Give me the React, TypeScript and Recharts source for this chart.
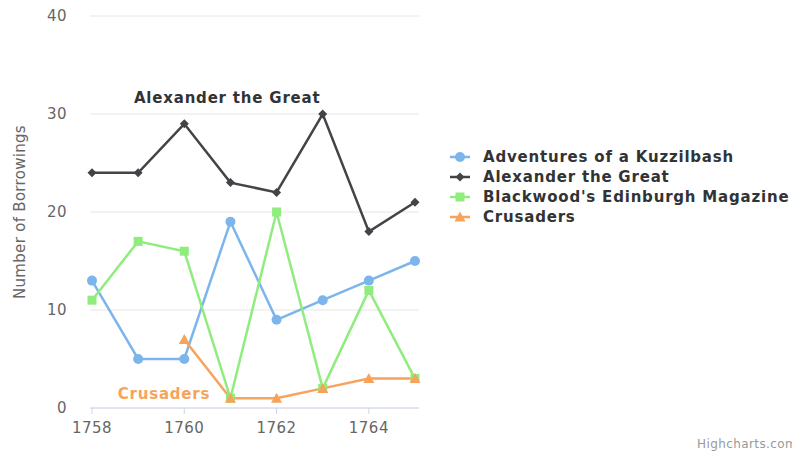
import React from "react";
import { LineChart, Line, XAxis, YAxis, CartesianGrid, ReferenceDot } from "recharts";

const years = [1758, 1759, 1760, 1761, 1762, 1763, 1764, 1765];
const kuzzilbash = [13, 5, 5, 19, 9, 11, 13, 15];
const alexander = [24, 24, 29, 23, 22, 30, 18, 21];
const blackwood = [11, 17, 16, 1, 20, 2, 12, 3];
const crusaders: (number | null)[] = [null, null, 7, 1, 1, 2, 3, 3];
const yTicks = [0, 10, 20, 30, 40];
const xTicks = [1758, 1760, 1762, 1764];

const seriesNames = [
  "Adventures of a Kuzzilbash",
  "Alexander the Great",
  "Blackwood's Edinburgh Magazine",
  "Crusaders",
];
const seriesKeys = ["kuzzilbash", "alexander", "blackwood", "crusaders"];
const seriesColors = ["#7cb5ec", "#434348", "#90ed7d", "#f7a35c"];
const seriesShapes = ["circle", "diamond", "square", "triangle"];

const data = years.map((year, i) => ({
  year,
  kuzzilbash: kuzzilbash[i],
  alexander: alexander[i],
  blackwood: blackwood[i],
  crusaders: crusaders[i],
}));

const FONT = "'DejaVu Sans', Verdana, sans-serif";

function Marker({ shape, cx, cy, color, r = 4.5 }: any) {
  if (shape === "circle") return <circle cx={cx} cy={cy} r={r + 0.5} fill={color} />;
  if (shape === "square") return <rect x={cx - r} y={cy - r} width={2 * r} height={2 * r} fill={color} />;
  if (shape === "diamond")
    return <path d={`M${cx},${cy - r} L${cx + r},${cy} L${cx},${cy + r} L${cx - r},${cy} Z`} fill={color} />;
  return <path d={`M${cx},${cy - r - 1} L${cx + r + 1},${cy + r} L${cx - r - 1},${cy + r} Z`} fill={color} />;
}

const makeDot = (shape: string, color: string) => (p: any) => {
  if (p.cx == null || p.cy == null || p.value == null || (Array.isArray(p.value) && p.value[1] == null))
    return <g key={p.index} />;
  return (
    <g key={p.index}>
      <Marker shape={shape} cx={p.cx} cy={p.cy} color={color} />
    </g>
  );
};

const YTick = (p: any) => (
  <text x={p.x} y={p.y} dy="0.355em" textAnchor="end" fontSize={15} letterSpacing={0.5} fill="#666" fontFamily={FONT}>
    {p.payload.value}
  </text>
);

const XTick = (p: any) => (
  <text x={p.x} y={408 + 25} textAnchor="middle" fontSize={15} letterSpacing={0.5} fill="#666" fontFamily={FONT}>
    {p.payload.value}
  </text>
);

const LegendBox = () => (
  <svg width={360} height={90} style={{ position: "absolute", left: 445, top: 147 }}>
    {seriesNames.map((name, i) => {
      const y = 10 + i * 20;
      return (
        <g key={name}>
          <line x1={5} x2={25} y1={y} y2={y} stroke={seriesColors[i]} strokeWidth={2.5} />
          <Marker shape={seriesShapes[i]} cx={15} cy={y} color={seriesColors[i]} />
          <text
            x={38}
            y={y}
            dy="0.355em"
            fontSize={15}
            letterSpacing={0.8}
            fontWeight="bold"
            fill="#333"
            fontFamily={FONT}
          >
            {name}
          </text>
        </g>
      );
    })}
  </svg>
);

export default function App() {
  return (
    <div style={{ position: "absolute", left: 0, top: 0, width: 792, height: 452, background: "#fff", overflow: "hidden" }}>
      <LineChart
        width={792}
        height={452}
        data={data}
        margin={{ top: 16, right: 373, bottom: 14, left: 0 }}
      >
        <CartesianGrid vertical={false} stroke="#e6e6e6" />
        <XAxis
          dataKey="year"
          type="number"
          domain={[1758, 1765]}
          ticks={xTicks}
          padding={{ left: 2, right: 4 }}
          stroke="#ccd6eb"
          tickLine={{ stroke: "#ccd6eb" }}
          tickSize={6}
          tick={<XTick />}
          interval={0}
          height={30}
        />
        <YAxis
          width={90}
          domain={[0, 40]}
          ticks={yTicks}
          axisLine={false}
          tickLine={false}
          tickSize={0}
          tickMargin={23}
          tick={<YTick />}
          interval={0}
          label={{
            value: "Number of Borrowings",
            angle: -90,
            position: "insideLeft",
            offset: 0,
            style: { fontSize: 15, letterSpacing: 0.3, fill: "#666", fontFamily: FONT, textAnchor: "middle" },
            dx: 20,
          }}
        />
        {seriesKeys.map((key, i) => (
          <Line
            key={key}
            dataKey={key}
            name={seriesNames[i]}
            stroke={seriesColors[i]}
            strokeWidth={2.5}
            dot={makeDot(seriesShapes[i], seriesColors[i])}
            activeDot={false}
            isAnimationActive={false}
          />
        ))}
        <ReferenceDot
          x={1760.93}
          y={31.7}
          r={0}
          fill="none"
          stroke="none"
          label={{
            value: "Alexander the Great",
            position: "center",
            style: { fontSize: 15, letterSpacing: 0.8, fontWeight: "bold", fill: "#333", fontFamily: FONT },
          }}
        />
        <ReferenceDot
          x={1759.56}
          y={1.5}
          r={0}
          fill="none"
          stroke="none"
          label={{
            value: "Crusaders",
            position: "center",
            style: { fontSize: 15, letterSpacing: 0.8, fontWeight: "bold", fill: "#f7a35c", fontFamily: FONT },
          }}
        />
      </LineChart>
      <LegendBox />
      <div
        style={{
          position: "absolute",
          left: 697,
          top: 437,
          fontSize: 12,
          letterSpacing: 0.4,
          color: "#999",
          fontFamily: FONT,
          whiteSpace: "nowrap",
        }}
      >
        Highcharts.com
      </div>
    </div>
  );
}
